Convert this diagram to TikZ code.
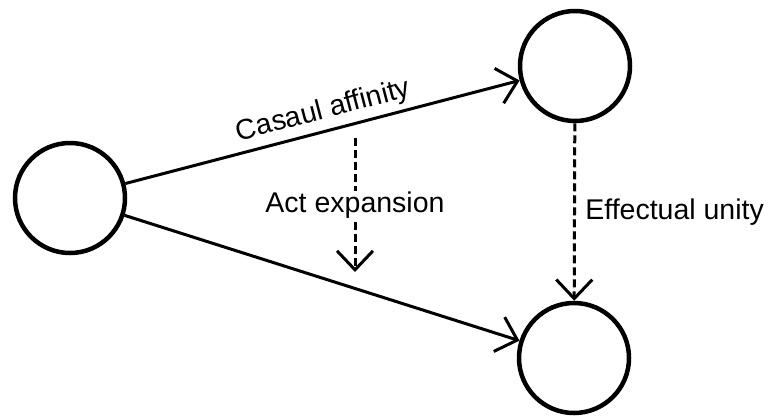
\documentclass[tikz,border=0pt]{standalone}
\usepackage{fontspec}
\setmainfont{Liberation Sans}
\usetikzlibrary{arrows.meta}
\begin{document}
\begin{tikzpicture}[x=1pt,y=-1pt,
  state/.style={circle,draw,line width=4.5pt,minimum size=110pt,inner sep=0pt},
  conn/.style={line width=3pt,-{Straight Barb[length=19pt,width=36pt]}},
  dashconn/.style={conn,dash pattern=on 8pt off 4pt},
  lbl/.style={font=\fontsize{28.5}{32}\selectfont}]
\useasboundingbox (0,0) rectangle (768,416);
\node[state] (L) at (70,198) {};
\node[state] (T) at (575,66) {};
\node[state] (B) at (574,358) {};
\draw[conn] (L) -- node[lbl,sloped,above,pos=0.515,inner sep=5pt] {Casaul affinity} (T);
\draw[conn] (L) -- (B);
\coordinate (aeS) at (355,138);
\coordinate (aeE) at (355,272);
\draw[dashconn] (aeS) -- node[lbl,fill=white,inner sep=1pt,midway] {Act expansion} (aeE);
\draw[dashconn] (T) -- node[lbl,right,midway,xshift=6pt] {Effectual unity} (B);
\end{tikzpicture}
\end{document}
